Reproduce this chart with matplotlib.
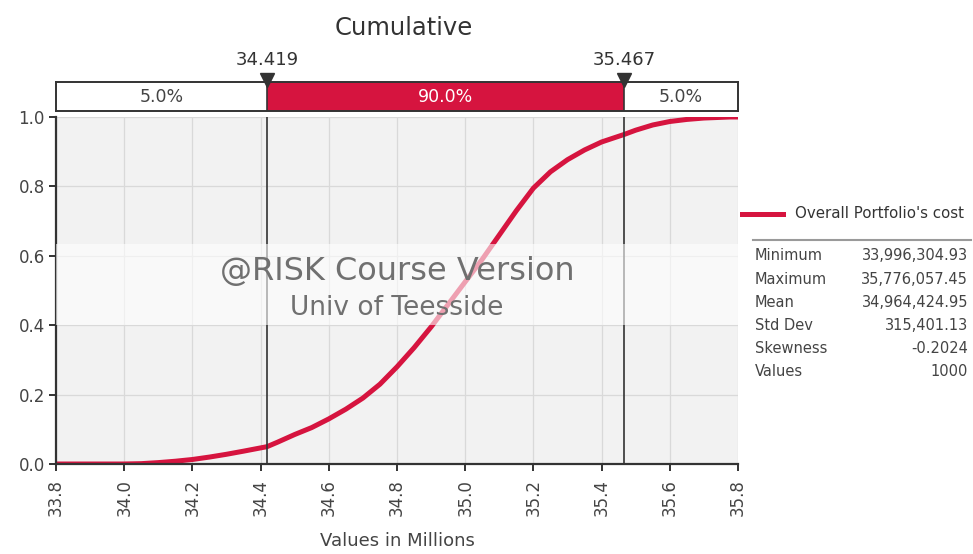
import numpy as np
import matplotlib
matplotlib.use("Agg")
import matplotlib.pyplot as plt
import matplotlib.transforms as mtransforms

# cumulative curve (values in millions, probability)
cum_x = [33.8, 33.996, 34.05, 34.1, 34.15, 34.2, 34.25, 34.3, 34.35, 34.419,
         34.45, 34.5, 34.55, 34.6, 34.65, 34.7, 34.75, 34.8, 34.85, 34.9,
         34.95, 35.0, 35.05, 35.1, 35.15, 35.2, 35.25, 35.3, 35.35, 35.4,
         35.467, 35.5, 35.55, 35.6, 35.65, 35.7, 35.776, 35.8]
cum_p = [0.0, 0.0, 0.001, 0.004, 0.008, 0.013, 0.02, 0.028, 0.037, 0.05,
         0.063, 0.085, 0.105, 0.13, 0.158, 0.19, 0.23, 0.28, 0.335, 0.395,
         0.46, 0.525, 0.59, 0.66, 0.73, 0.795, 0.842, 0.877, 0.905, 0.928,
         0.95, 0.962, 0.977, 0.987, 0.993, 0.997, 1.0, 1.0]

lower_mark = 34.419
upper_mark = 35.467
band_labels = ["5.0%", "90.0%", "5.0%"]

series_name = "Overall Portfolio's cost"
stat_names = ["Minimum", "Maximum", "Mean", "Std Dev", "Skewness", "Values"]
stat_values = ["33,996,304.93", "35,776,057.45", "34,964,424.95", "315,401.13",
               "-0.2024", "1000"]

xticks = [33.8, 34.0, 34.2, 34.4, 34.6, 34.8, 35.0, 35.2, 35.4, 35.6, 35.8]
yticks = [0.0, 0.2, 0.4, 0.6, 0.8, 1.0]

red = "#D6143F"
dark = "#333333"
txt = "#444444"

W, H = 973, 554
fig = plt.figure(figsize=(W / 100, H / 100), dpi=100)
plt.rcParams["font.family"] = ["DejaVu Sans"]

def fx(px):
    return px / W

def fy(py):
    return 1 - py / H

# main axes
ax = fig.add_axes([fx(56), fy(464), fx(738) - fx(56), fy(117) - fy(464)])
ax.set_facecolor("#F2F2F2")
ax.plot(cum_x, cum_p, color=red, lw=3.6, solid_capstyle="butt",
        solid_joinstyle="round", zorder=2)
ax.set_xlim(33.8, 35.8)
ax.set_ylim(0, 1.0)
ax.set_xticks(xticks)
ax.set_xticklabels(["%.1f" % v for v in xticks], rotation=90, fontsize=12, color=txt)
ax.set_yticks(yticks)
ax.set_yticklabels(["%.1f" % v for v in yticks], fontsize=12, color=txt)
ax.grid(True, color="#D9D9D9", lw=0.9, zorder=0)
ax.set_axisbelow(True)
for s in ["top", "right"]:
    ax.spines[s].set_visible(False)
for s in ["left", "bottom"]:
    ax.spines[s].set_color(dark)
    ax.spines[s].set_linewidth(1.6)
ax.tick_params(direction="out", length=5, width=1.4, color=dark, pad=3)
ax.tick_params(axis="x", pad=6)

for m in (lower_mark, upper_mark):
    ax.axvline(m, color=dark, lw=1.2, zorder=3)

# watermark strip
ax.axhspan(0.40, 0.635, color="white", alpha=0.6, lw=0, zorder=4)
ax.text(0.5, 0.555, "@RISK Course Version", transform=ax.transAxes, ha="center",
        va="center", fontsize=23, color="#707070", zorder=5)
ax.text(0.5, 0.45, "Univ of Teesside", transform=ax.transAxes, ha="center",
        va="center", fontsize=19, color="#707070", zorder=5)

# percentile band above the plot
bax = fig.add_axes([fx(56), fy(111), fx(738) - fx(56), fy(82) - fy(111)])
bax.set_xlim(33.8, 35.8)
bax.set_ylim(0, 1)
bax.axvspan(lower_mark, upper_mark, color=red, lw=0)
bax.set_xticks([])
bax.set_yticks([])
for s in bax.spines.values():
    s.set_color(dark)
    s.set_linewidth(1.4)
for m in (lower_mark, upper_mark):
    bax.axvline(m, color=dark, lw=1.2)
centers = [(33.8 + lower_mark) / 2, (lower_mark + upper_mark) / 2, (upper_mark + 35.8) / 2]
colors = [txt, "white", txt]
for c, lab, col in zip(centers, band_labels, colors):
    bax.text(c, 0.47, lab, ha="center", va="center", fontsize=12.5, color=col)

trans = mtransforms.blended_transform_factory(bax.transData, bax.transAxes)
for m in (lower_mark, upper_mark):
    bax.plot([m], [1.08], marker="v", ms=10, color=dark, transform=trans, clip_on=False)
    bax.annotate("%.3f" % m, xy=(m, 1.0), xycoords=trans, xytext=(0, 16),
                 textcoords="offset points", ha="center", va="center",
                 fontsize=13, color=dark, annotation_clip=False)

fig.text(fx(404), fy(28), "Cumulative", ha="center", va="center", fontsize=17.5, color=dark)
fig.text(fx(397), fy(541), "Values in Millions", ha="center", va="center",
         fontsize=13, color=txt)

# legend and statistics table
fig.add_artist(plt.Line2D([fx(742), fx(783)], [fy(214), fy(214)], color=red, lw=3.6))
fig.text(fx(795), fy(214), series_name, ha="left", va="center", fontsize=10.8, color=dark)
fig.add_artist(plt.Line2D([fx(753), fx(971)], [fy(240), fy(240)], color="#9A9A9A", lw=1.5))
for i, (n, v) in enumerate(zip(stat_names, stat_values)):
    yy = fy(256 + i * 23.2)
    fig.text(fx(755), yy, n, ha="left", va="center", fontsize=10.5, color=txt)
    fig.text(fx(968), yy, v, ha="right", va="center", fontsize=10.5, color=txt)

fig.savefig("out.png", dpi=100, facecolor="white")
